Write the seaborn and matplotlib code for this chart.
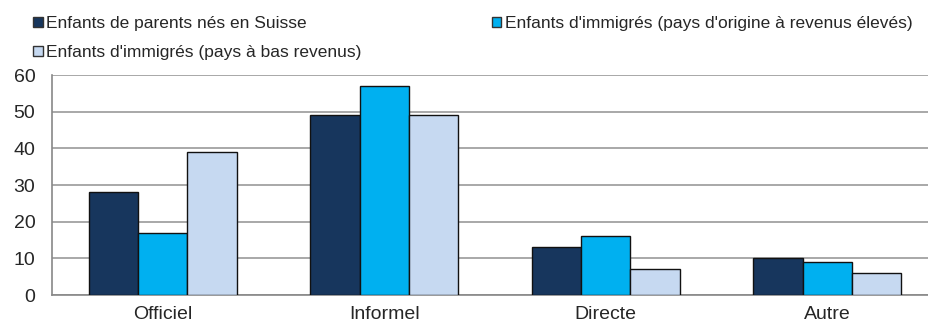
import matplotlib
matplotlib.use("Agg")
import matplotlib.pyplot as plt
import seaborn as sns
import pandas as pd
from matplotlib.patches import Patch

categories = ["Officiel", "Informel", "Directe", "Autre"]
groups = [
    "Enfants de parents nés en Suisse",
    "Enfants d'immigrés (pays d'origine à revenus élevés)",
    "Enfants d'immigrés (pays à bas revenus)",
]
suisse = [28, 49, 13, 10]
immig_eleves = [17, 57, 16, 9]
immig_bas = [39, 49, 7, 6]
yticks = [0, 10, 20, 30, 40, 50, 60]
colors = ["#17365D", "#00B0F0", "#C6D9F1"]

rows = []
for g, vals in zip(groups, [suisse, immig_eleves, immig_bas]):
    for c, v in zip(categories, vals):
        rows.append({"cat": c, "val": v, "groupe": g})
df = pd.DataFrame(rows)

sns.set_style("white")
plt.rcParams["font.family"] = ["Liberation Sans", "DejaVu Sans"]

fig = plt.figure(figsize=(9.29, 3.27), dpi=100)
ax = fig.add_axes([52 / 929, (327 - 295) / 327, (938 - 52) / 929, 220 / 327])

sns.barplot(data=df, x="cat", y="val", hue="groupe", hue_order=groups,
            order=categories, palette=colors, saturation=1,
            edgecolor="#111111", linewidth=1.0, width=0.667, gap=0,
            ax=ax, legend=False, zorder=3)

ax.set_xlim(-0.5, 3.5)
ax.set_ylim(0, 60)
ax.set_yticks(yticks)
ax.set_yticklabels([str(t) for t in yticks], fontsize=14)
ax.set_xticks(range(len(categories)))
ax.set_xticklabels(categories, fontsize=14)
ax.set_xticks([i - 0.5 for i in range(len(categories) + 1)], minor=True)
ax.tick_params(axis="x", which="major", length=0, pad=8)
ax.tick_params(axis="x", which="minor", length=4, color="#888888", width=1)
ax.tick_params(axis="y", length=3, color="#888888", pad=9)
ax.set_xlabel("")
ax.set_ylabel("")
ax.yaxis.grid(True, color="#999999", linewidth=1.2, zorder=0)
ax.set_axisbelow(True)
for s in ["top", "right"]:
    ax.spines[s].set_visible(False)
for s in ["left", "bottom"]:
    ax.spines[s].set_color("#888888")
    ax.spines[s].set_linewidth(1.2)

handles = [Patch(facecolor=c, edgecolor="#333333", linewidth=1.0) for c in colors]
order = [0, 2, 1]
fig.legend([handles[i] for i in order], [groups[i] for i in order],
           ncol=2, loc="upper left", bbox_to_anchor=(21 / 929, 1.0 - 4 / 327),
           frameon=False, fontsize=12.5, handlelength=0.55, handleheight=0.55,
           handletextpad=0.2, columnspacing=7.5, labelspacing=0.8,
           borderaxespad=0.3)

fig.savefig("out.png", dpi=100)
